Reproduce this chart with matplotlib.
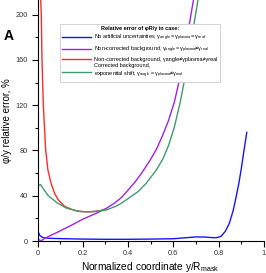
import matplotlib
matplotlib.use("Agg")
import matplotlib.pyplot as plt
from matplotlib.ticker import MultipleLocator

plt.rcParams["font.family"] = ["Liberation Sans", "DejaVu Sans"]
plt.rcParams["mathtext.fontset"] = "custom"
plt.rcParams["mathtext.rm"] = "Liberation Sans"
plt.rcParams["mathtext.it"] = "Liberation Sans"

# ---- data ----
blue_x = [0.003, 0.01, 0.025, 0.05, 0.1, 0.2, 0.3, 0.4, 0.5, 0.6, 0.65, 0.7,
          0.74, 0.77, 0.79, 0.81, 0.83, 0.848, 0.865, 0.878, 0.89, 0.90, 0.912, 0.925]
blue_y = [7.7, 4.7, 2.9, 2.4, 2.1, 1.7, 1.5, 1.5, 1.7, 2.0, 2.8, 3.6,
          3.5, 3.0, 2.9, 4.0, 8.5, 15.7, 27, 39, 51, 63, 79, 96]

purple_x = [0.003, 0.01, 0.017, 0.032, 0.06, 0.084, 0.143, 0.2, 0.26, 0.305,
            0.34, 0.371, 0.40, 0.43, 0.46, 0.496, 0.525, 0.55, 0.578, 0.605,
            0.63, 0.655, 0.69]
purple_y = [1.5, 0.7, 0.3, 2.4, 5.2, 7.4, 13.3, 19.3, 24.6, 29,
            33.5, 38.5, 45, 52, 60, 71, 81, 92, 106, 123,
            145, 173, 214]

red_x = [0.012, 0.016, 0.019, 0.025, 0.035, 0.045, 0.059, 0.075, 0.091, 0.12,
         0.15, 0.17, 0.2, 0.22, 0.25, 0.28, 0.3]
red_y = [220, 200, 160, 120, 81, 63, 51, 42, 36.4, 30.5,
         28, 26.7, 26, 25.8, 26, 27, 28]

green_x = [0.003, 0.013, 0.025, 0.047, 0.084, 0.128, 0.187, 0.22, 0.26, 0.305,
           0.349, 0.371, 0.40, 0.445, 0.48, 0.526, 0.555, 0.58, 0.605, 0.63,
           0.655, 0.68, 0.71]
green_y = [48.9, 49.8, 46, 40, 34, 29, 26, 25.8, 26.3, 27.5,
           31, 33.5, 37.5, 43.8, 51, 63, 73, 85, 101, 122,
           148, 178, 214]

labels = [
    r"No artificial uncertainties, $\mathregular{γ_{angle}=γ_{plasma}=γ_{real}}$",
    r"Non-corrected background, $\mathregular{γ_{angle}=γ_{plasma}≠γ_{real}}$",
    "Non-corrected background, γangle≠γplasma≠γreal",
    "Corrected background,\n" r"exponential shift, $\mathregular{γ_{angle}=γ_{plasma}≠γ_{real}}$",
]
colors = ["#1414ff", "#a020f0", "#ff2a2a", "#3f9b6e"]

fig = plt.figure(figsize=(2.66, 2.73), dpi=100)
ax = fig.add_axes([0.1417, 0.1172, 0.8497, 0.8828])

ax.plot(blue_x, blue_y, color=colors[0], lw=1.0, label=labels[0])
ax.plot(purple_x, purple_y, color=colors[1], lw=1.0, label=labels[1])
ax.plot(red_x, red_y, color=colors[2], lw=1.0, label=labels[2])
ax.plot(green_x, green_y, color=colors[3], lw=1.0, label=labels[3])

ax.set_xlim(0, 1)
ax.set_ylim(0, 213)
ax.spines["top"].set_visible(False)
ax.spines["right"].set_visible(False)
ax.spines["left"].set_linewidth(0.8)
ax.spines["bottom"].set_linewidth(0.8)

ax.xaxis.set_minor_locator(MultipleLocator(0.1))
ax.yaxis.set_major_locator(MultipleLocator(40))
ax.yaxis.set_minor_locator(MultipleLocator(20))
ax.set_xticks([0, 0.2, 0.4, 0.6, 0.8, 1.0])
ax.set_xticklabels(["0", "0.2", "0.4", "0.6", "0.8", "1"])
ax.tick_params(which="major", direction="out", length=4.3, width=0.8,
               labelsize=5.3, labelcolor="#333333", pad=2.5)
ax.tick_params(which="minor", direction="out", length=2.4, width=0.8)

ax.set_xlabel(r"Normalized coordinate y/R$_{\mathregular{mask}}$", fontsize=7.3, labelpad=2)
ax.set_ylabel("φ/y relative error, %", fontsize=7, labelpad=3)

fig.text(0.012, 0.853, "A", fontsize=10, fontweight="bold")

leg = ax.legend(loc="upper left", bbox_to_anchor=(0.2256, 0.912),
                bbox_transform=fig.transFigure, borderaxespad=0,
                title="Relative error of φR/y in case:",
                title_fontproperties={"weight": "bold", "size": 4},
                fontsize=4, handlelength=5.2, handletextpad=0.6,
                labelspacing=0.3, fancybox=False, framealpha=1)
leg.get_frame().set_edgecolor("#cccccc")
leg.get_frame().set_linewidth(0.6)

fig.savefig("out.png", dpi=100)
